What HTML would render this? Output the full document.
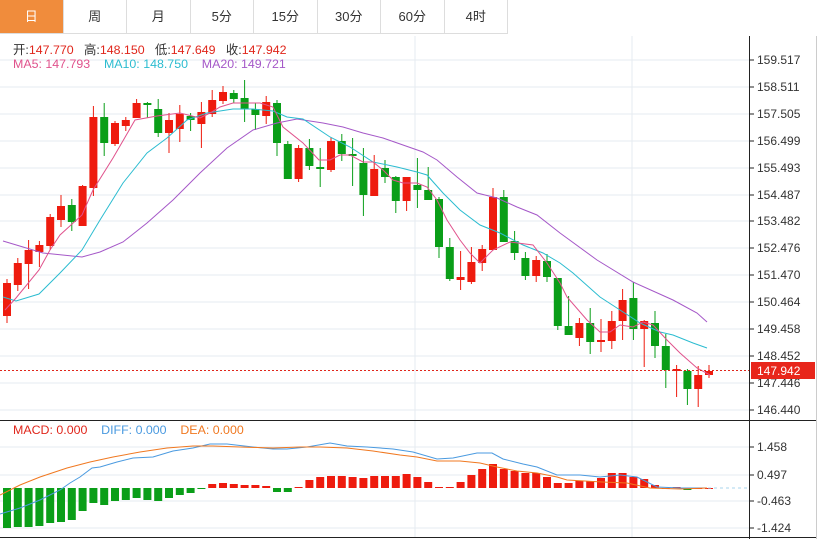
<!DOCTYPE html>
<html><head><meta charset="utf-8"><style>
body{margin:0;width:823px;height:539px;overflow:hidden;background:#fff;font-family:"Liberation Sans","Noto Sans CJK SC",sans-serif;}
#tabs{position:absolute;left:0;top:0;height:33px;width:508px;border-bottom:1px solid #ddd;}
.t{position:absolute;top:0;height:33px;line-height:33px;text-align:center;font-size:13px;color:#333;border-right:1px solid #ddd;box-sizing:border-box}
.lg{position:absolute;font-size:12.4px;white-space:nowrap}
</style></head><body>
<div id="tabs"></div>
<svg id="s" width="823" height="539" style="position:absolute;left:0;top:0"></svg>
<div class="lg" style="left:13px;top:40px;color:#333">开:<span style="color:#e0261b">147.770</span>&nbsp;&nbsp; 高:<span style="color:#e0261b">148.150</span>&nbsp;&nbsp; 低:<span style="color:#e0261b">147.649</span>&nbsp;&nbsp; 收:<span style="color:#e0261b">147.942</span></div>
<div class="lg" style="left:13px;top:57px"><span style="color:#e0528c">MA5: 147.793</span>&nbsp;&nbsp;&nbsp; <span style="color:#2bbcd0">MA10: 148.750</span>&nbsp;&nbsp;&nbsp; <span style="color:#a558c8">MA20: 149.721</span></div>
<div class="lg" style="left:13px;top:423px"><span style="color:#e0261b">MACD: 0.000</span>&nbsp;&nbsp;&nbsp; <span style="color:#4a9ae0">DIFF: 0.000</span>&nbsp;&nbsp;&nbsp; <span style="color:#f07820">DEA: 0.000</span></div>
<script>
var tabs=["日","周","月","5分","15分","30分","60分","4时"],h="";
tabs.forEach(function(t,i){h+='<div class="t" style="left:'+(i*63.5)+'px;width:63.5px;'+(i==0?'background:#f08c3c;color:#fff;':'')+'">'+t+'</div>';});
document.getElementById('tabs').innerHTML=h;
var C=[[316,283,279,323],[285,263,258,291],[264,250,240,289],[252,245,241,267],[246,217,214,250],[220,206,195,227],[205,222,199,231],[226,186,185,226],[188,117,106,196],[117,143,103,156],[144,123,121,146],[126,120,117,131],[118,103,99,118],[103,105,102,118],[109,133,99,137],[133,120,113,153],[129,114,105,142],[116,120,113,131],[124,112,102,148],[114,100,90,117],[101,92,86,104],[93,99,90,103],[98,109,80,122],[109,115,103,130],[116,102,96,124],[103,143,100,156],
[144,179,141,179],[179,148,145,182],[148,166,139,170],[167,169,148,187],[170,141,137,172],[141,154,134,161],[154,156,138,186],[163,195,148,216],[196,169,155,196],[168,177,160,183],[177,201,176,213],[201,177,177,211],[185,190,158,208],[190,200,167,200],[199,247,197,258],[247,279,238,281],[280,277,251,290],[282,262,247,284],[263,249,245,271],[250,197,188,250],[197,242,190,242],[241,253,231,260],[258,276,252,280],[276,260,256,282],[261,277,254,282],[278,326,278,330],
[326,335,296,332],[338,323,318,346],[323,342,308,354],[342,340,319,352],[341,321,311,349],[321,300,289,340],[298,329,282,340],[329,321,320,367],[323,346,311,358],[346,370,334,388],[371,369,365,397],[371,389,369,405],[389,375,366,407],[375,371,365,378]];
var s='';
var py=[60,87,114,141,168,195,221,248,275,302,329,356,383,410],pl=["159.517","158.511","157.505","156.499","155.493","154.487","153.482","152.476","151.470","150.464","149.458","148.452","147.446","146.440"];
py.forEach(function(y){s+='<line x1="0" x2="749" y1="'+y+'" y2="'+y+'" stroke="#e6ebf0"/>';});
var my=[447,475,501,528],ml=["1.458","0.497","-0.463","-1.424"];
my.forEach(function(y){s+='<line x1="0" x2="749" y1="'+y+'" y2="'+y+'" stroke="#e6ebf0"/>';});
[415,632].forEach(function(x){s+='<line x1="'+x+'" x2="'+x+'" y1="36" y2="537" stroke="#e6ebf0"/>';});
C.forEach(function(c,i){var x=7+10.8*i,up=c[1]<c[0],col=up?'#ee1b0e':'#0a9e18';
var t=Math.min(c[0],c[1]),b=Math.max(c[0],c[1]);if(b-t<2)b=t+2;
s+='<line x1="'+x+'" x2="'+x+'" y1="'+c[2]+'" y2="'+c[3]+'" stroke="'+col+'"/>';
s+='<rect x="'+(x-4)+'" y="'+t+'" width="8" height="'+(b-t)+'" fill="'+col+'"/>';});
function pl2(p,col){return '<polyline fill="none" stroke="'+col+'" stroke-width="1" points="'+p+'"/>';}
s+=pl2("3,241 43,253 82,257 100,252 123,242 147,223 173,200 200,173 227,148 253,130 277,123 297,119 323,123 343,127 363,133 383,138 403,145 423,152 437,160 457,177 477,193 497,198 517,207 537,215 560,233 597,260 633,282 673,300 697,313 707,322","#a558c8");
s+=pl2("3,297 16,301 39,294 60,273 82,250 100,220 123,183 147,153 167,138 187,120 207,113 233,109 253,109 273,111 287,117 303,119 330,137 350,147 373,162 397,167 417,172 427,175 443,193 460,210 480,225 500,233 523,245 543,253 560,263 573,273 600,297 620,310 640,323 660,332 673,335 693,343 707,348","#2bbcd0");
s+=pl2("5,310 16,298 39,270 50,250 60,235 82,215 93,190 113,158 135,120 157,116 180,113 200,118 210,113 220,107 233,103 260,103 273,107 283,127 303,143 319,160 330,160 340,155 350,155 363,162 373,162 383,170 393,180 403,183 417,183 427,187 437,200 447,220 460,240 470,253 480,263 493,250 510,242 533,245 547,263 560,283 567,297 587,320 600,332 610,332 620,325 633,327 643,322 653,325 667,340 680,353 697,368 710,375","#e0528c");
s+='<line x1="0" x2="749" y1="370.5" y2="370.5" stroke="#e0261b" stroke-dasharray="2,2"/>';
var M=[528,527,527,526,523,522,520,511,503,505,501,500,498,500,501,498,495,493,489,484,483,484,485,485,486,492,492,487,480,477,476,476,477,478,476,476,476,474,477,482,487,487,482,475,469,464,469,471,473,473,477,483,483,481,481,478,473,473,477,479,485,488,487,490,488,488];
M.forEach(function(v,i){var x=7+10.8*i,z=488,col=v>z?'#0a9e18':'#ee1b0e';var t=Math.min(v,z),h=Math.abs(v-z);if(h<1)h=1;
s+='<rect x="'+(x-4)+'" y="'+t+'" width="8" height="'+h+'" fill="'+col+'"/>';});
s+=pl2("0,514 20,508 40,500 60,490 70,483 80,477 92,468 100,467 117,462 133,458 153,457 173,451 193,448 210,444 227,444 253,447 273,449 287,449 307,447 330,443 347,446 367,447 393,449 413,452 437,459 453,458 477,453 492,453 503,459 523,464 537,467 557,475 580,475 600,477 620,475 637,477 657,487 680,488 707,488","#4a9ae0");
s+=pl2("0,495 20,485 40,477 67,468 90,462 113,457 140,452 167,448 193,446 213,446 240,447 273,448 300,447 320,447 347,448 373,451 400,455 417,457 437,461 460,461 480,463 497,467 517,471 537,473 557,477 567,480 602,482 627,483 650,488 680,489 707,488","#f07820");
s+='<line x1="708" x2="748" y1="488" y2="488" stroke="#a8d4ee" stroke-dasharray="3,3"/>';
s+='<line x1="749.5" x2="749.5" y1="36" y2="539" stroke="#222"/>';
s+='<line x1="0" x2="816" y1="420.5" y2="420.5" stroke="#222"/>';
s+='<line x1="0" x2="816" y1="537.5" y2="537.5" stroke="#222"/>';
s+='<line x1="816.5" x2="816.5" y1="36" y2="539" stroke="#ccc"/>';
py.forEach(function(y,i){s+='<line x1="749" x2="754" y1="'+y+'" y2="'+y+'" stroke="#222"/><text x="757" y="'+(y+4)+'" font-size="12" fill="#333" font-family="Liberation Sans,sans-serif">'+pl[i]+'</text>';});
my.forEach(function(y,i){s+='<line x1="749" x2="754" y1="'+y+'" y2="'+y+'" stroke="#222"/><text x="757" y="'+(y+4)+'" font-size="12" fill="#333" font-family="Liberation Sans,sans-serif">'+ml[i]+'</text>';});
s+='<rect x="751" y="362" width="64" height="17" fill="#e8261b"/><text x="757" y="375" font-size="12" fill="#fff" font-family="Liberation Sans,sans-serif">147.942</text>';
document.getElementById('s').innerHTML=s;
</script>
</body></html>
